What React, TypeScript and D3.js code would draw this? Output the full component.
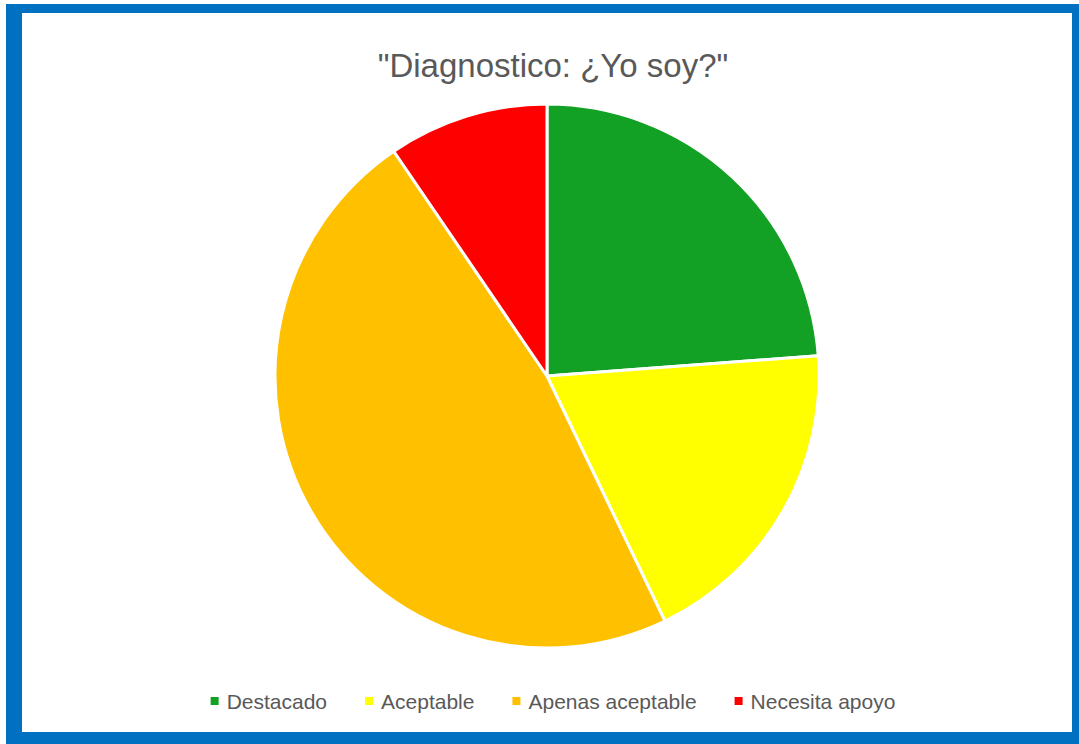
import React, { useEffect, useRef } from 'react';
import * as d3 from 'd3';

const categories = ['Destacado', 'Aceptable', 'Apenas aceptable', 'Necesita apoyo'];
const values = [5, 4, 10, 2];
const colors = ['#13A125', '#FFFF00', '#FFC000', '#FF0000'];
const title = '"Diagnostico: ¿Yo soy?"';

const width = 1079;
const height = 744;

export default function App() {
  const svgRef = useRef<SVGSVGElement>(null);

  useEffect(() => {
    if (!svgRef.current) return;
    const svg = d3.select(svgRef.current);
    svg.selectAll('*').remove();

    // frame
    svg.append('rect').attr('x', 0).attr('y', 0).attr('width', width).attr('height', height).attr('fill', '#fff');
    svg.append('rect').attr('x', 6).attr('y', 4).attr('width', width - 6).attr('height', height - 4).attr('fill', '#0070C0');
    svg.append('rect').attr('x', 22).attr('y', 13).attr('width', 1050).attr('height', 719).attr('fill', '#fff');

    const font = '"Liberation Sans", Arial, sans-serif';

    svg
      .append('text')
      .attr('x', 553)
      .attr('y', 77)
      .attr('text-anchor', 'middle')
      .attr('font-family', font)
      .attr('font-size', 33)
      .attr('fill', '#595959')
      .text(title);

    // pie
    const cx = 547;
    const cy = 376;
    const r = 272;
    const pie = d3.pie<number>().sort(null).value(d => d);
    const arc = d3.arc<d3.PieArcDatum<number>>().innerRadius(0).outerRadius(r);

    svg
      .append('g')
      .attr('transform', `translate(${cx},${cy})`)
      .selectAll('path')
      .data(pie(values))
      .join('path')
      .attr('d', arc)
      .attr('fill', (_, i) => colors[i])
      .attr('stroke', '#fff')
      .attr('stroke-width', 3)
      .attr('stroke-linejoin', 'round');

    // legend
    const legend = svg.append('g');
    const items = categories.map((c, i) => {
      const g = legend.append('g');
      g.append('rect').attr('width', 8).attr('height', 8).attr('y', -12).attr('fill', colors[i]);
      const t = g
        .append('text')
        .attr('x', 16)
        .attr('y', 0)
        .attr('font-family', font)
        .attr('font-size', 21)
        .attr('fill', '#595959')
        .text(c);
      const w = 16 + (t.node() as SVGTextElement).getComputedTextLength();
      return { g, w };
    });
    const gap = 38;
    const total = d3.sum(items, d => d.w) + gap * (items.length - 1);
    let x = 553 - total / 2;
    items.forEach(({ g, w }) => {
      g.attr('transform', `translate(${x},709)`);
      x += w + gap;
    });
  }, []);

  return (
    <svg
      ref={svgRef}
      width={width}
      height={height}
      style={{ position: 'absolute', left: 0, top: 0, display: 'block' }}
    />
  );
}
